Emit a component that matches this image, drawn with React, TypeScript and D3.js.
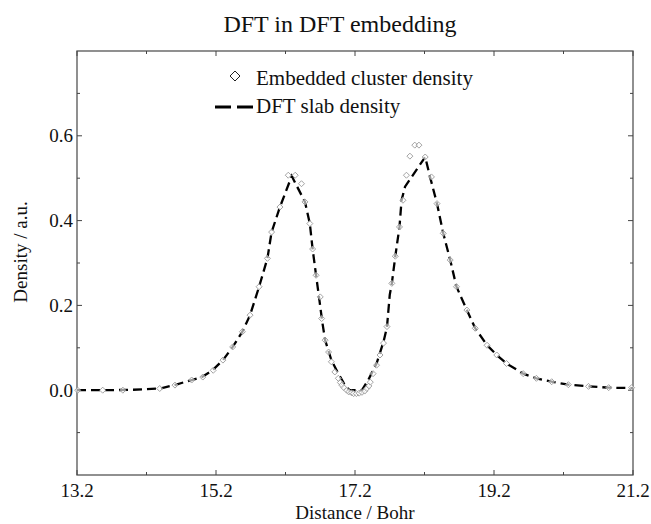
import React from "react";
import * as d3 from "d3";

// DFT slab density (dashed line)
const slabX = [13.2, 13.6, 14.0, 14.4, 14.6, 14.85, 15.0, 15.15, 15.3, 15.44, 15.58, 15.69, 15.82, 15.94, 16.0, 16.12, 16.29, 16.48, 16.55, 16.59, 16.64, 16.69, 16.73, 16.77, 16.86, 16.96, 17.04, 17.12, 17.3, 17.39, 17.51, 17.61, 17.66, 17.7, 17.73, 17.78, 17.84, 17.87, 17.92, 18.21, 18.28, 18.38, 18.47, 18.57, 18.66, 18.81, 18.93, 19.1, 19.24, 19.38, 19.62, 19.81, 20.03, 20.27, 20.56, 20.85, 21.2];
const slabY = [0.0, 0.0, 0.001, 0.004, 0.012, 0.024, 0.031, 0.047, 0.071, 0.102, 0.138, 0.177, 0.244, 0.311, 0.373, 0.432, 0.505, 0.444, 0.393, 0.333, 0.271, 0.21, 0.16, 0.118, 0.071, 0.039, 0.016, 0.0, 0.0, 0.024, 0.063, 0.114, 0.149, 0.225, 0.252, 0.316, 0.385, 0.448, 0.48, 0.55, 0.503, 0.44, 0.37, 0.307, 0.244, 0.189, 0.146, 0.106, 0.083, 0.063, 0.039, 0.028, 0.02, 0.013, 0.009, 0.006, 0.005];

// Embedded cluster density (diamonds)
const clusterX = [13.21, 13.57, 13.86, 14.39, 14.61, 14.85, 15.01, 15.16, 15.3, 15.44, 15.58, 15.69, 15.82, 15.94, 16.0, 16.12, 16.24, 16.34, 16.43, 16.48, 16.55, 16.59, 16.64, 16.7, 16.72, 16.77, 16.82, 16.86, 16.91, 16.96, 16.99, 17.01, 17.04, 17.08, 17.11, 17.15, 17.18, 17.22, 17.26, 17.3, 17.34, 17.37, 17.4, 17.42, 17.46, 17.51, 17.56, 17.61, 17.66, 17.73, 17.78, 17.84, 17.89, 17.94, 17.99, 18.06, 18.12, 18.21, 18.3, 18.38, 18.47, 18.57, 18.66, 18.81, 18.93, 19.1, 19.24, 19.38, 19.62, 19.81, 20.03, 20.27, 20.56, 20.85, 21.18];
const clusterY = [0.0, 0.0, 0.0, 0.004, 0.012, 0.024, 0.031, 0.047, 0.071, 0.102, 0.138, 0.177, 0.244, 0.311, 0.373, 0.432, 0.507, 0.507, 0.487, 0.444, 0.393, 0.333, 0.271, 0.22, 0.169, 0.118, 0.09, 0.067, 0.043, 0.028, 0.018, 0.012, 0.006, 0.0, -0.004, -0.006, -0.008, -0.008, -0.007, -0.005, -0.002, 0.004, 0.01, 0.019, 0.039, 0.059, 0.083, 0.111, 0.15, 0.252, 0.316, 0.385, 0.448, 0.507, 0.552, 0.578, 0.578, 0.55, 0.503, 0.44, 0.37, 0.307, 0.244, 0.189, 0.146, 0.106, 0.083, 0.063, 0.039, 0.028, 0.02, 0.013, 0.009, 0.006, 0.006];

const xMajor = [13.2, 15.2, 17.2, 19.2, 21.2];
const xMinor = [14.2, 16.2, 18.2, 20.2];
const yMajor = [0.0, 0.2, 0.4, 0.6];
const yMinor = [-0.1, 0.1, 0.3, 0.5, 0.7];

const W = 651, H = 524;
const L = 77, R = 633, T = 51, B = 475;
const FONT = "'Liberation Serif', 'Times New Roman', serif";

export default function App() {
  const x = d3.scaleLinear().domain([13.2, 21.2]).range([L, R]);
  const y = d3.scaleLinear().domain([-0.2, 0.8]).range([B, T]);
  const line = d3.line<number>().x((_, i) => x(slabX[i])).y((_, i) => y(slabY[i]));
  const linePath = line(slabX) || "";
  const dia = (r: number) => `M0,${-r}L${r},0L0,${r}L${-r},0Z`;
  const tc = "#444";

  return (
    <svg width={W} height={H} style={{ position: "absolute", left: 0, top: 0, background: "#fff" }} fontFamily={FONT}>
      <rect x={0} y={0} width={W} height={H} fill="#fff" />
      <text x={340} y={32} fontSize={24} textAnchor="middle" fill="#111">DFT in DFT embedding</text>

      {/* frame */}
      <rect x={L} y={T} width={R - L} height={B - T} fill="none" stroke="#555" strokeWidth={1.3} />

      {/* x ticks */}
      {xMajor.map((v) => (
        <g key={"xm" + v}>
          <line x1={x(v)} x2={x(v)} y1={B} y2={B - 5} stroke={tc} strokeWidth={1} />
          <line x1={x(v)} x2={x(v)} y1={T} y2={T + 5} stroke={tc} strokeWidth={1} />
          <text x={x(v)} y={497} fontSize={19} textAnchor="middle" fill="#111">{v.toFixed(1)}</text>
        </g>
      ))}
      {xMinor.map((v) => (
        <g key={"xn" + v}>
          <line x1={x(v)} x2={x(v)} y1={B} y2={B - 3} stroke={tc} strokeWidth={1} />
          <line x1={x(v)} x2={x(v)} y1={T} y2={T + 3} stroke={tc} strokeWidth={1} />
        </g>
      ))}
      {/* y ticks */}
      {yMajor.map((v) => (
        <g key={"ym" + v}>
          <line x1={L} x2={L + 5} y1={y(v)} y2={y(v)} stroke={tc} strokeWidth={1} />
          <line x1={R} x2={R - 5} y1={y(v)} y2={y(v)} stroke={tc} strokeWidth={1} />
          <text x={73} y={y(v)} dy="0.35em" fontSize={19} textAnchor="end" fill="#111">{v.toFixed(1)}</text>
        </g>
      ))}
      {yMinor.map((v) => (
        <g key={"yn" + v}>
          <line x1={L} x2={L + 3} y1={y(v)} y2={y(v)} stroke={tc} strokeWidth={1} />
          <line x1={R} x2={R - 3} y1={y(v)} y2={y(v)} stroke={tc} strokeWidth={1} />
        </g>
      ))}

      {/* axis titles */}
      <text x={(L + R) / 2} y={519} fontSize={19} textAnchor="middle" fill="#111">Distance / Bohr</text>
      <text transform={`translate(27,252) rotate(-90)`} fontSize={19} textAnchor="middle" fill="#111">Density / a.u.</text>

      {/* dashed line */}
      <path d={linePath} fill="none" stroke="#000" strokeWidth={2.3} strokeDasharray="9,5" />

      {/* diamonds */}
      {clusterX.map((v, i) => (
        <path key={"d" + i} d={dia(3)} transform={`translate(${x(v)},${y(clusterY[i])})`} fill="#fff" fillOpacity={0.6} stroke="#999" strokeWidth={0.9} />
      ))}

      {/* legend */}
      <path d={dia(5)} transform="translate(235,76)" fill="none" stroke="#222" strokeWidth={1} />
      <text x={256} y={85} fontSize={21} fill="#111">Embedded cluster density</text>
      <line x1={215} x2={253} y1={107} y2={107} stroke="#000" strokeWidth={3} strokeDasharray="16,6" />
      <text x={256} y={113} fontSize={21} fill="#111">DFT slab density</text>
    </svg>
  );
}
